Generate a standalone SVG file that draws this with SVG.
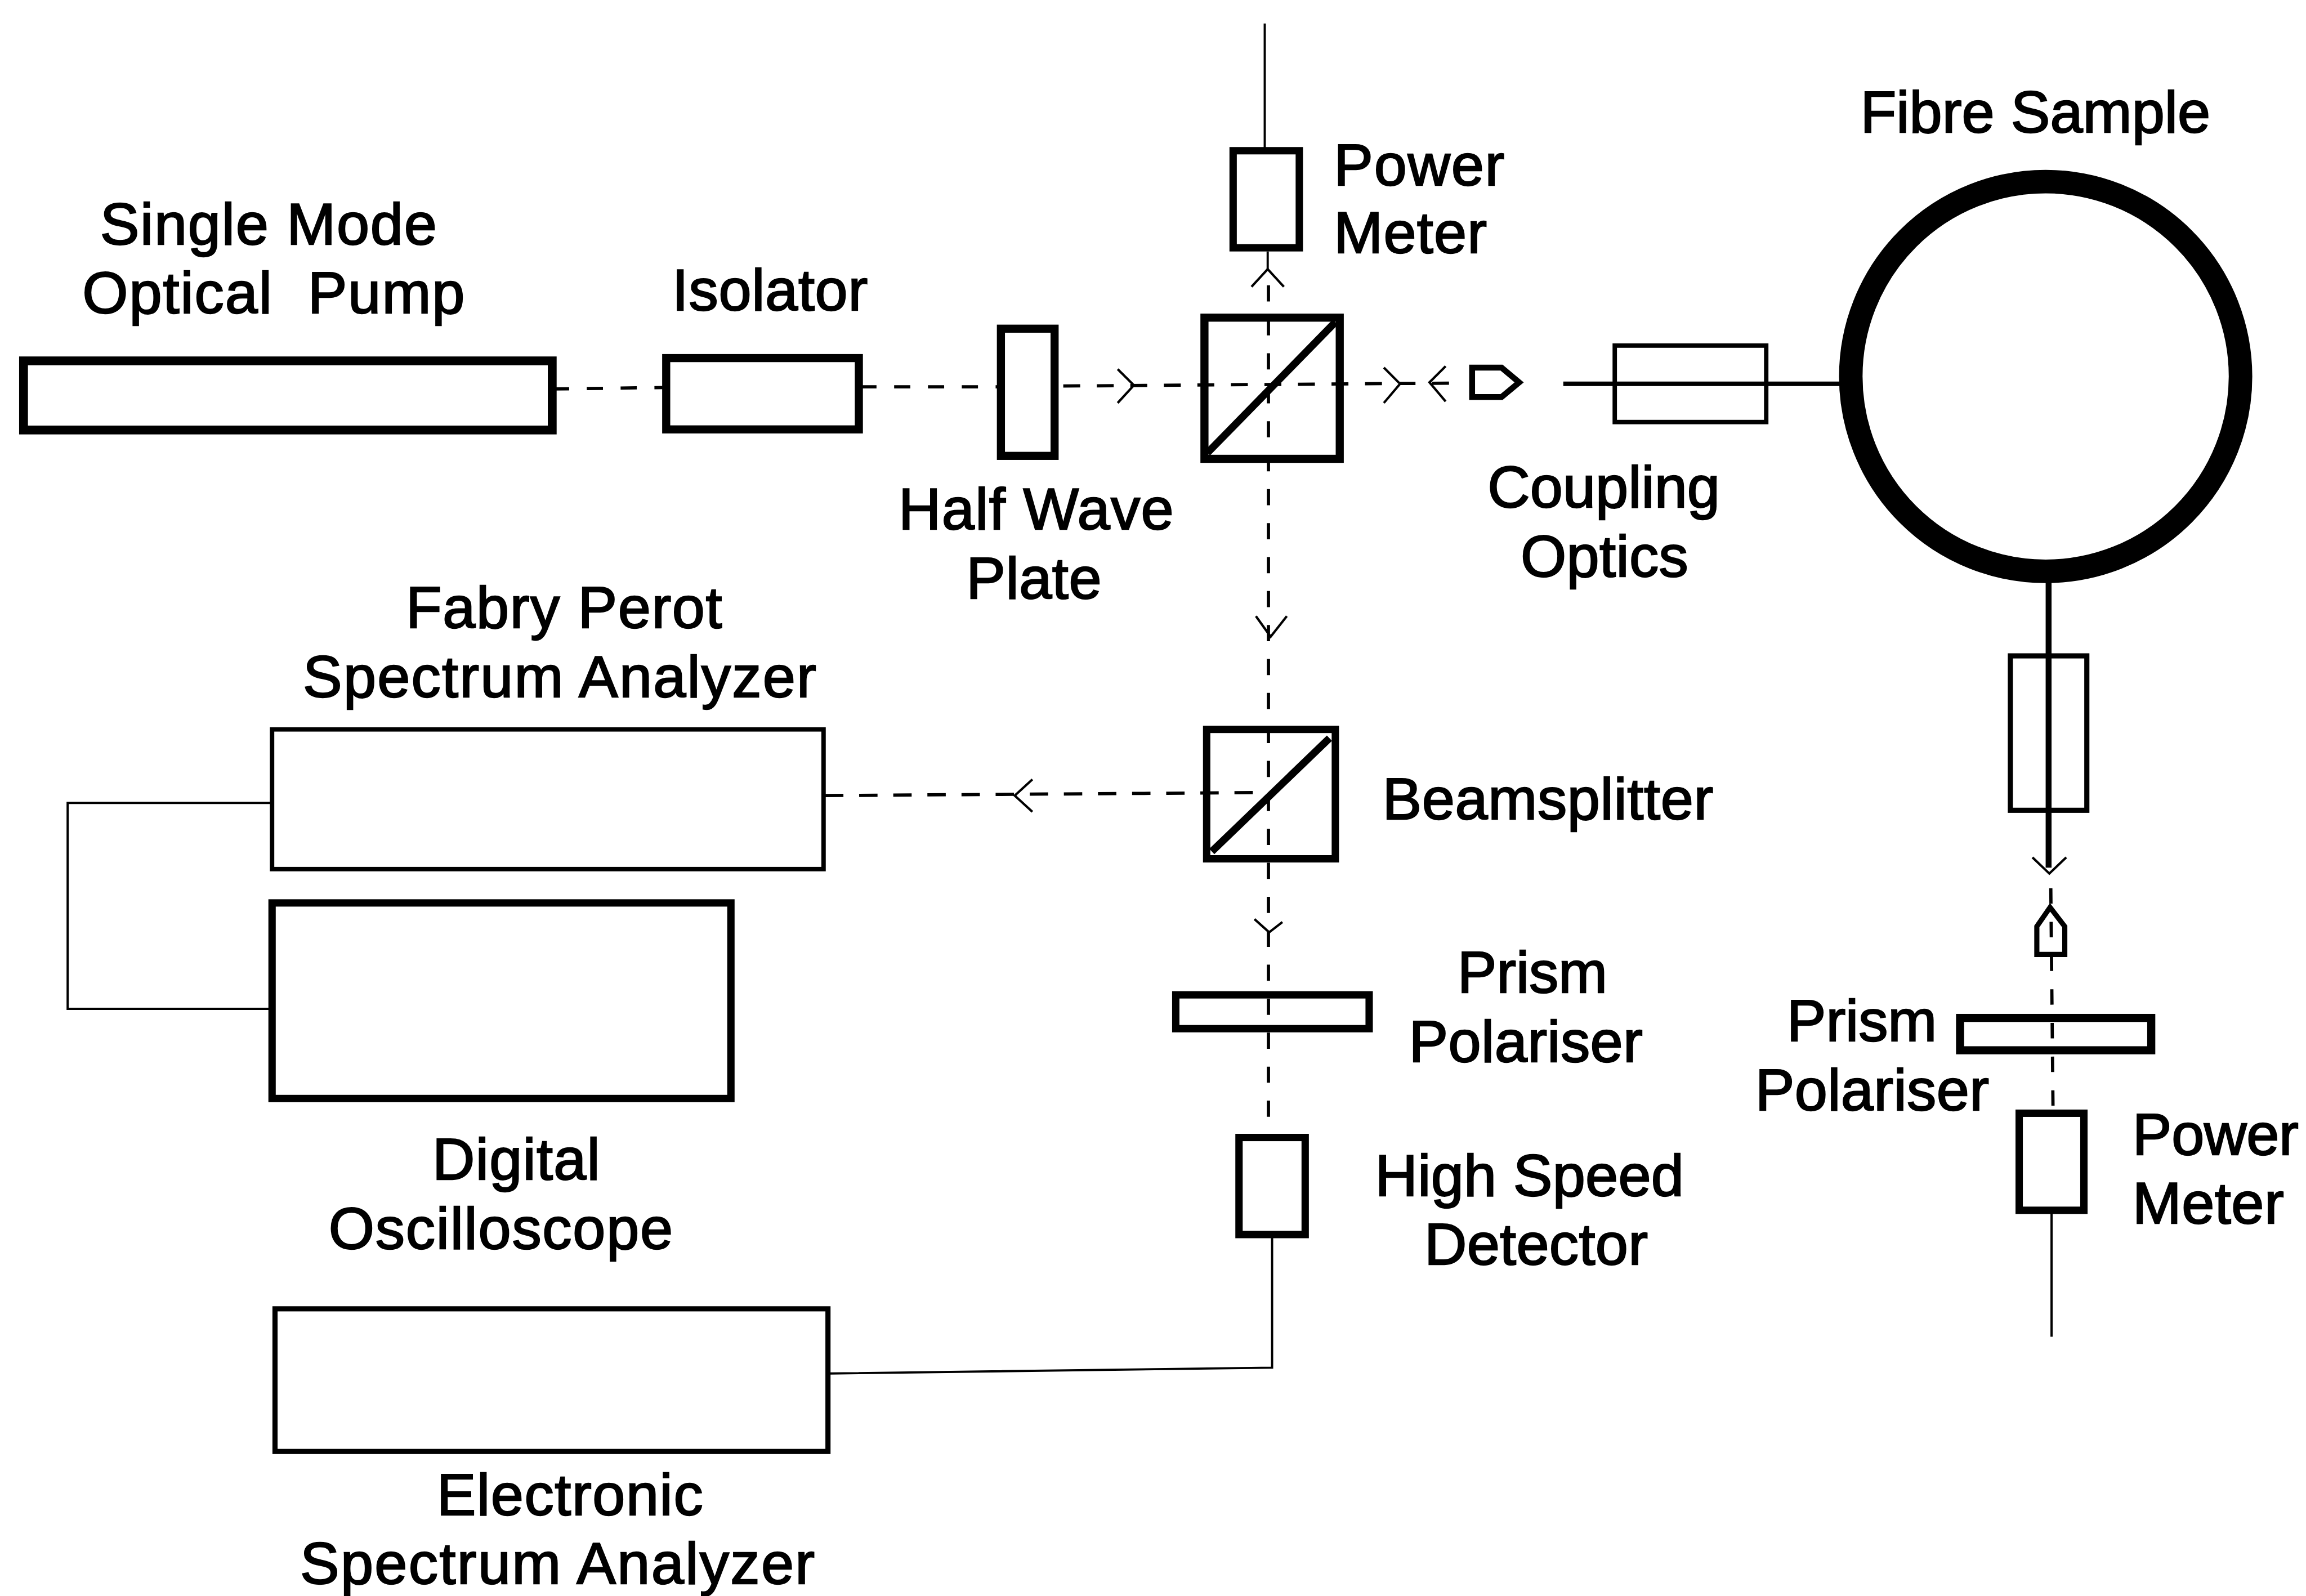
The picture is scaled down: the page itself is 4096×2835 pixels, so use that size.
<svg xmlns="http://www.w3.org/2000/svg" width="4096" height="2835" viewBox="0 0 4096 2835">
<style>
.t{font-family:"Liberation Sans",Arial,sans-serif;font-size:40px;fill:#000;stroke:#000;stroke-width:.9px;white-space:pre}
.m{text-anchor:middle}
.b{fill:none;stroke:#000;stroke-linejoin:miter}
.w3{stroke-width:3}.w35{stroke-width:3.5}.w4{stroke-width:4}.w5{stroke-width:5}.w55{stroke-width:5.5}.w6{stroke-width:6}
.th{fill:none;stroke:#000;stroke-width:1.5}
.d{fill:none;stroke:#000;stroke-width:2.2}
.a{fill:none;stroke:#000;stroke-width:1.6}
.dv{stroke-dasharray:11 12.1}
.dh{stroke-dasharray:11 12}
</style>
<rect width="4096" height="2835" fill="#fff"/>
<g transform="scale(2.6122)">
<g id="connectors">
<path class="d dh" d="M376 264.5L452 263.5"/>
<path class="d dh" d="M585 263H680"/>
<path class="d" stroke-dasharray="11.5 11.3" d="M723 262.5L990 260.5"/>
<path class="d dv" d="M862.5 194V772"/>
<path class="d" stroke-dasharray="12.5 10.7" d="M561 541L852 539"/>
<path class="d" stroke-dasharray="10.5 12.4" d="M1394.5 604L1396 753"/>
<path class="th" d="M860 16V102"/>
<path class="th" d="M862 171V184"/>
<path class="th" d="M865 840V930L564 934"/>
<path class="th" d="M185 546H46V686H185"/>
<path class="th" d="M1395 823V909"/>
<path class="b w3" d="M1063 261H1253"/>
<path class="b w4" d="M1393 395V590"/>
<path class="a" d="M851 195L862 183L873 195"/>
<path class="a" d="M760 251L771 262L760 274"/>
<path class="a" d="M941 250L952 261L941 274"/>
<path class="a" d="M983 249L972 260L983 273"/>
<path class="a" d="M854 419L864 433L875 419"/>
<path class="a" d="M702 530L690 541L702 552"/>
<path class="a" d="M853 625L863 634L872 627"/>
<path class="a" d="M1382 583L1393.5 594L1405 583"/>
</g>
<g id="pump"><rect class="b w6" x="16" y="245.4" width="359.5" height="47"/><text class="t m" x="182.5" y="166" textLength="229">Single Mode</text><text class="t m" x="186" y="213" textLength="260">Optical  Pump</text></g>
<g id="isolator"><rect class="b w55" x="453" y="243.5" width="131" height="48.5"/><text class="t m" x="523.5" y="211" textLength="133">Isolator</text></g>
<g id="half-wave-plate"><rect class="b w55" x="680.6" y="223.5" width="36.5" height="86.5"/><text class="t m" x="704.5" y="360" textLength="187">Half Wave</text><text class="t m" x="703" y="407" textLength="92">Plate</text></g>
<g id="cube"><rect class="b w55" x="819" y="216" width="92" height="96"/><path class="b w5" d="M821 308L908 219"/></g>
<g id="power-meter-top"><rect class="b w5" x="838.5" y="102.5" width="45" height="66"/><text class="t" x="907" y="126" textLength="116">Power</text><text class="t" x="907" y="172" textLength="104">Meter</text></g>
<g id="coupling-tip"><path class="b w4" d="M1001 250H1021L1033 260L1021 270H1001Z"/></g>
<g id="coupling-optics"><rect class="b w3" x="1098" y="235" width="103" height="52"/><text class="t m" x="1090.5" y="345" textLength="158">Coupling</text><text class="t m" x="1091" y="392" textLength="114">Optics</text></g>
<g id="fibre-sample"><circle class="b" style="stroke-width:16" cx="1391" cy="256" r="132.5"/><text class="t" x="1265" y="90" textLength="238">Fibre Sample</text></g>
<g id="fibre-coupler"><rect class="b w35" x="1367" y="446" width="52" height="105"/></g>
<g id="output-tip"><path class="b w35" d="M1394 617L1404 630V649H1385V630Z"/></g>
<g id="polariser-right"><rect class="b w55" x="1332.8" y="692.2" width="130" height="22"/><text class="t m" x="1266" y="708" textLength="102">Prism</text><text class="t m" x="1273" y="755" textLength="159">Polariser</text></g>
<g id="power-meter-right"><rect class="b w5" x="1373" y="757" width="44" height="66"/><text class="t" x="1450" y="785" textLength="113">Power</text><text class="t" x="1450" y="832" textLength="103">Meter</text></g>
<g id="beamsplitter"><rect class="b w5" x="820.5" y="496" width="87.5" height="88"/><path class="b w5" d="M824 579L904 502"/><text class="t" x="940" y="557" textLength="225">Beamsplitter</text></g>
<g id="polariser-mid"><rect class="b w5" x="799.5" y="676.5" width="131.5" height="23"/><text class="t m" x="1042" y="675" textLength="102">Prism</text><text class="t m" x="1037.5" y="722" textLength="159">Polariser</text></g>
<g id="detector"><rect class="b w5" x="842.5" y="773.5" width="45" height="66"/><text class="t m" x="1040" y="813" textLength="210">High Speed</text><text class="t m" x="1044.5" y="860" textLength="152">Detector</text></g>
<g id="fabry-perot"><rect class="b w3" x="185" y="496" width="375" height="95"/><text class="t m" x="383.5" y="427" textLength="215">Fabry Perot</text><text class="t m" x="380.5" y="474" textLength="349">Spectrum Analyzer</text></g>
<g id="oscilloscope"><rect class="b w5" x="185" y="614" width="312" height="133"/><text class="t m" x="351" y="802" textLength="114">Digital</text><text class="t m" x="340.5" y="849" textLength="234">Oscilloscope</text></g>
<g id="electronic-analyzer"><rect class="b w35" x="187" y="890" width="376" height="97"/><text class="t m" x="387.5" y="1030" textLength="181">Electronic</text><text class="t m" x="379" y="1077" textLength="350">Spectrum Analyzer</text></g>
</g>
</svg>
